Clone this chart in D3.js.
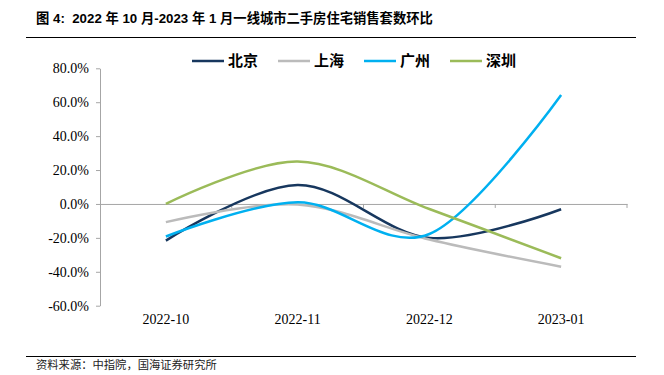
<!DOCTYPE html>
<html>
<head>
<meta charset="utf-8">
<script src="https://cdn.jsdelivr.net/npm/d3@7"></script>
<style>
  html, body { margin: 0; padding: 0; background: #fff; }
  .axis text { font-family: 'Liberation Serif', 'Times New Roman', serif; font-size: 14px; fill: #000; }
</style>
</head>
<body>
<div id="chart"></div>
<script>
const months = ["2022-10", "2022-11", "2022-12", "2023-01"];
const cities = ["北京", "上海", "广州", "深圳"];
const beijing = [-21.6, 11.2, -20.0, -3.1];
const shanghai = [-10.7, -0.3, -21.0, -37.0];
const guangzhou = [-19.2, 1.0, -17.7, 64.2];
const shenzhen = [0.0, 25.0, -3.0, -32.0];
const yTicks = [80, 60, 40, 20, 0, -20, -40, -60];
const colors = ["#17375E", "#BBBBBB", "#00B0F0", "#9BBB59"];

const W = 664, H = 375;
const PLOT = { left: 100, right: 627, top: 68.3, bottom: 305.7 };

const svg = d3.select("#chart").append("svg")
  .attr("width", W)
  .attr("height", H)
  .style("background", "#fff");

// title + rules
svg.append("text")
  .attr("x", 36)
  .attr("y", 23)
  .attr("font-family", "'Liberation Sans', 'Noto Sans CJK SC', sans-serif")
  .attr("font-weight", "bold")
  .attr("font-size", "13.3px")
  .attr("fill", "#000")
  .attr("xml:space", "preserve")
  .text("图 4:  2022 年 10 月-2023 年 1 月一线城市二手房住宅销售套数环比");

svg.append("line")
  .attr("x1", 26).attr("x2", 636)
  .attr("y1", 37.5).attr("y2", 37.5)
  .attr("stroke", "#000").attr("stroke-width", 1);

svg.append("line")
  .attr("x1", 26).attr("x2", 636)
  .attr("y1", 356.5).attr("y2", 356.5)
  .attr("stroke", "#000").attr("stroke-width", 1);

svg.append("text")
  .attr("x", 36)
  .attr("y", 369)
  .attr("font-family", "'Noto Sans CJK SC', sans-serif")
  .attr("font-size", "11.3px")
  .attr("fill", "#222")
  .text("资料来源：中指院，国海证券研究所");

// scales
const x = d3.scaleBand().domain(months).range([PLOT.left, PLOT.right]);
const y = d3.scaleLinear().domain([-60, 80]).range([PLOT.bottom, PLOT.top]);

// y axis
const yAxis = svg.append("g")
  .attr("class", "axis")
  .attr("transform", `translate(${PLOT.left},0)`)
  .call(d3.axisLeft(y).tickValues(yTicks).tickSize(4).tickSizeOuter(0)
    .tickFormat(d => d.toFixed(1) + "%"));
yAxis.attr("font-family", null).attr("font-size", null);
yAxis.select(".domain").attr("stroke", "#A6A6A6");
yAxis.selectAll(".tick line").attr("stroke", "#A6A6A6");
yAxis.selectAll(".tick text").attr("x", -11);

// x axis sits on zero line
const xAxis = svg.append("g")
  .attr("class", "axis")
  .attr("transform", `translate(0,${y(0)})`)
  .call(d3.axisBottom(x).tickSize(0).tickSizeOuter(0));
xAxis.attr("font-family", null).attr("font-size", null);
xAxis.select(".domain").attr("stroke", "#A6A6A6");
xAxis.selectAll(".tick text")
  .attr("y", PLOT.bottom - y(0) + 18)
  .attr("dy", 0);

// boundary ticks between categories
const edges = months.map(m => x(m)).concat([PLOT.right]).slice(1);
svg.append("g").selectAll("line")
  .data(edges)
  .join("line")
  .attr("x1", d => d).attr("x2", d => d)
  .attr("y1", y(0)).attr("y2", y(0) + 4)
  .attr("stroke", "#A6A6A6");

// lines
const series = [beijing, shanghai, guangzhou, shenzhen];
const line = d3.line()
  .x((d, i) => x(months[i]) + x.bandwidth() / 2)
  .y(d => y(d))
  .curve(d3.curveCardinal.tension(0));

svg.append("g").selectAll("path")
  .data(series)
  .join("path")
  .attr("d", d => line(d))
  .attr("fill", "none")
  .attr("stroke", (d, i) => colors[i])
  .attr("stroke-width", 2.5);

// legend
const legend = svg.append("g").attr("transform", "translate(192,61)");
const item = legend.selectAll("g")
  .data(cities)
  .join("g")
  .attr("transform", (d, i) => `translate(${i * 86},0)`);
item.append("line")
  .attr("x1", 0).attr("x2", 32)
  .attr("stroke", (d, i) => colors[i])
  .attr("stroke-width", 2.5);
item.append("text")
  .attr("x", 36)
  .attr("dy", "0.36em")
  .attr("font-family", "'Noto Sans CJK SC', sans-serif")
  .attr("font-weight", "bold")
  .attr("font-size", "15px")
  .attr("fill", "#000")
  .text(d => d);
</script>
</body>
</html>
